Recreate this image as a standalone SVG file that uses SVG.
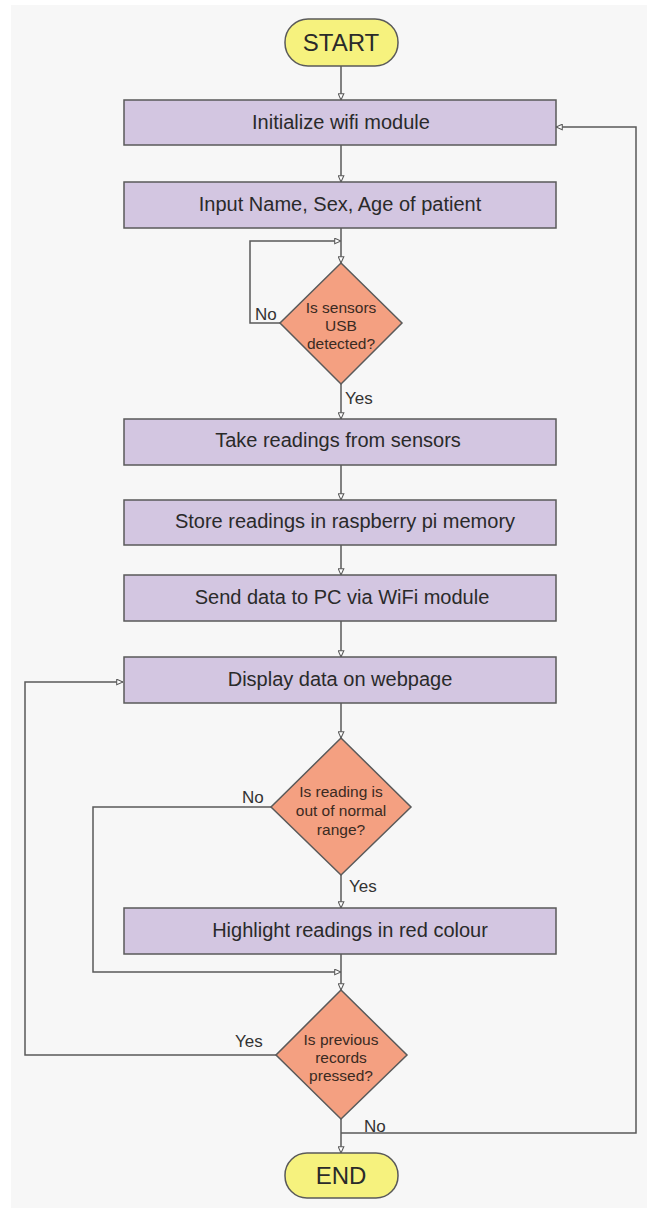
<svg xmlns="http://www.w3.org/2000/svg" width="647" height="1216" viewBox="0 0 647 1216">
<defs>
<style>
.box{fill:#d3c6e1;stroke:#5a5a5a;stroke-width:1.5}
.dia{fill:#f4a081;stroke:#5a5a5a;stroke-width:1.5}
.term{fill:#f6f27e;stroke:#5a5a5a;stroke-width:1.5}
.t{font-family:"Liberation Sans",Arial,sans-serif;font-size:20px;fill:#2a2a2a;text-anchor:middle}
.d{font-family:"Liberation Sans",Arial,sans-serif;font-size:15.5px;fill:#3a2a22;text-anchor:middle}
.tt{font-family:"Liberation Sans",Arial,sans-serif;font-size:24px;fill:#2a2a2a;text-anchor:middle}
.lb{font-family:"Liberation Sans",Arial,sans-serif;font-size:17px;fill:#333}
.c{fill:none;stroke:#5a5a5a;stroke-width:1.5}
</style>
<marker id="ah" viewBox="0 0 10 10" refX="10" refY="5" markerWidth="7" markerHeight="7" markerUnits="userSpaceOnUse" orient="auto">
<path d="M1,1 L10,5 L1,9 Z" fill="#ffffff" stroke="#5a5a5a" stroke-width="1.5"/>
</marker>
</defs>
<rect x="0" y="0" width="647" height="1216" fill="#ffffff"/>
<rect x="11" y="5" width="636" height="1203" fill="#f7f7f7"/>
<g id="connectors">
<path class="c" d="M341,66 V100" marker-end="url(#ah)"/>
<path class="c" d="M341,145 V182" marker-end="url(#ah)"/>
<path class="c" d="M341,228 V263" marker-end="url(#ah)"/>
<path class="c" d="M280,323 H250 V241 H341" marker-end="url(#ah)"/>
<path class="c" d="M341,384 V419" marker-end="url(#ah)"/>
<path class="c" d="M341,465 V500" marker-end="url(#ah)"/>
<path class="c" d="M341,545 V575" marker-end="url(#ah)"/>
<path class="c" d="M341,621 V657" marker-end="url(#ah)"/>
<path class="c" d="M341,703 V738" marker-end="url(#ah)"/>
<path class="c" d="M341,875 V908" marker-end="url(#ah)"/>
<path class="c" d="M271,807 H93 V972 H341" marker-end="url(#ah)"/>
<path class="c" d="M341,954 V990" marker-end="url(#ah)"/>
<path class="c" d="M276,1055 H25 V682 H123" marker-end="url(#ah)"/>
<path class="c" d="M341,1119 V1153" marker-end="url(#ah)"/>
<path class="c" d="M341,1133 H636 V127 H556" marker-end="url(#ah)"/>
<text class="lb" x="255" y="320">No</text>
<text class="lb" x="345" y="404">Yes</text>
<text class="lb" x="242" y="803">No</text>
<text class="lb" x="349" y="892">Yes</text>
<text class="lb" x="235" y="1047">Yes</text>
<text class="lb" x="364" y="1132">No</text>
</g>
<g id="start"><rect class="term" x="285" y="19" width="113" height="47" rx="23"/><text class="tt" x="341" y="51">START</text></g>
<g id="init"><rect class="box" x="124" y="100" width="432" height="45"/><text class="t" x="341" y="129">Initialize wifi module</text></g>
<g id="input"><rect class="box" x="124" y="182" width="432" height="46"/><text class="t" x="340" y="211">Input Name, Sex, Age of patient</text></g>
<g id="usb"><polygon class="dia" points="341,263 402,323 341,384 280,323"/><text class="d" x="341" y="313">Is sensors</text><text class="d" x="341" y="331">USB</text><text class="d" x="341" y="349">detected?</text></g>
<g id="take"><rect class="box" x="124" y="419" width="432" height="46"/><text class="t" x="338" y="447">Take readings from sensors</text></g>
<g id="store"><rect class="box" x="124" y="500" width="432" height="45"/><text class="t" x="345" y="528">Store readings in raspberry pi memory</text></g>
<g id="send"><rect class="box" x="124" y="575" width="432" height="46"/><text class="t" x="342" y="604">Send data to PC via WiFi module</text></g>
<g id="display"><rect class="box" x="124" y="657" width="432" height="46"/><text class="t" x="340" y="686">Display data on webpage</text></g>
<g id="range"><polygon class="dia" points="341,738 411,807 341,875 271,807"/><text class="d" x="341" y="797">Is reading is</text><text class="d" x="341" y="816">out of normal</text><text class="d" x="341" y="835">range?</text></g>
<g id="highlight"><rect class="box" x="124" y="908" width="432" height="46"/><text class="t" x="350" y="937">Highlight readings in red colour</text></g>
<g id="previous"><polygon class="dia" points="341,990 407,1055 341,1119 276,1055"/><text class="d" x="341" y="1045">Is previous</text><text class="d" x="341" y="1063">records</text><text class="d" x="341" y="1081">pressed?</text></g>
<g id="end"><rect class="term" x="285" y="1153" width="113" height="45" rx="22"/><text class="tt" x="341" y="1184">END</text></g>
</svg>
